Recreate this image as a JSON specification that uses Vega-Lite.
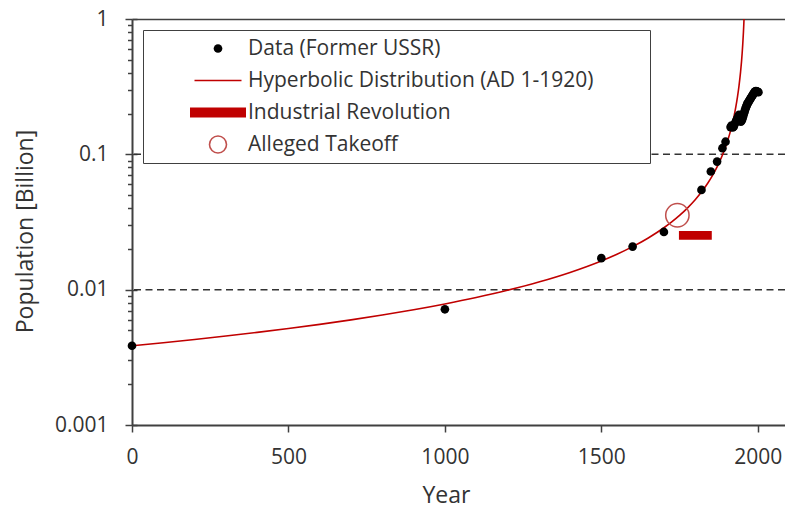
{
  "$schema": "https://vega.github.io/schema/vega-lite/v6.json",
  "width": 653,
  "height": 406,
  "autosize": {"type": "none"},
  "padding": {"left": 132, "top": 19, "right": 0, "bottom": 84},
  "background": "white",
  "config": {
    "view": {"stroke": null},
    "font": "Open Sans",
    "axis": {"grid": false, "domainColor": "#404040", "domainWidth": 2, "tickColor": "#404040", "tickWidth": 1.5, "labelFont": "Open Sans", "labelColor": "#333333", "titleFont": "Open Sans", "titleColor": "#333333", "titleFontWeight": "normal"},
    "legend": {"labelFont": "Open Sans", "labelFontSize": 21, "labelColor": "#333333", "labelLimit": 600, "strokeColor": "#404040", "fillColor": "white", "padding": 8, "rowPadding": 10, "clipHeight": 21, "symbolOffset": 39, "labelOffset": 2, "titleOrient": "right", "titleFontSize": 1, "titlePadding": 49}
  },
  "datasets": {
    "curve": [
      {"year": 0, "pop": 0.00385}, {"year": 100, "pop": 0.004057}, {"year": 200, "pop": 0.004287}, {"year": 300, "pop": 0.004544}, {"year": 400, "pop": 0.004835}, {"year": 500, "pop": 0.005165}, {"year": 600, "pop": 0.005544}, {"year": 700, "pop": 0.005983}, {"year": 800, "pop": 0.006497}, {"year": 900, "pop": 0.007108}, {"year": 1000, "pop": 0.007846}, {"year": 1100, "pop": 0.008754}, {"year": 1200, "pop": 0.0099}, {"year": 1300, "pop": 0.011392}, {"year": 1400, "pop": 0.013414}, {"year": 1500, "pop": 0.016307}, {"year": 1550, "pop": 0.018279}, {"year": 1600, "pop": 0.020792}, {"year": 1650, "pop": 0.024107}, {"year": 1700, "pop": 0.02868}, {"year": 1725, "pop": 0.031685}, {"year": 1750, "pop": 0.035393}, {"year": 1775, "pop": 0.040085}, {"year": 1800, "pop": 0.04621}, {"year": 1820, "pop": 0.052646}, {"year": 1840, "pop": 0.061165}, {"year": 1860, "pop": 0.072973}, {"year": 1870, "pop": 0.080769}, {"year": 1880, "pop": 0.090431}, {"year": 1890, "pop": 0.102717}, {"year": 1900, "pop": 0.118868}, {"year": 1910, "pop": 0.141045}, {"year": 1920, "pop": 0.173394}, {"year": 1925, "pop": 0.195855}, {"year": 1930, "pop": 0.225}, {"year": 1935, "pop": 0.264336}, {"year": 1940, "pop": 0.320339}, {"year": 1945, "pop": 0.406452}, {"year": 1948, "pop": 0.484615}, {"year": 1950, "pop": 0.555882}, {"year": 1952, "pop": 0.651724}, {"year": 1954, "pop": 0.7875}, {"year": 1955, "pop": 0.87907}, {"year": 1956, "pop": 0.994737}, {"year": 1956.5, "pop": 1.064789}
    ],
    "ussr": [
      {"year": 0, "pop": 0.00385}, {"year": 1000, "pop": 0.00716}, {"year": 1500, "pop": 0.0171}, {"year": 1600, "pop": 0.0208}, {"year": 1700, "pop": 0.0267}, {"year": 1820, "pop": 0.0546}, {"year": 1850, "pop": 0.0747}, {"year": 1870, "pop": 0.0884}, {"year": 1887, "pop": 0.111}, {"year": 1897, "pop": 0.124},
      {"year": 1913, "pop": 0.159}, {"year": 1916, "pop": 0.163}, {"year": 1920, "pop": 0.158}, {"year": 1923, "pop": 0.16}, {"year": 1926, "pop": 0.167}, {"year": 1929, "pop": 0.173}, {"year": 1932, "pop": 0.179}, {"year": 1935, "pop": 0.185}, {"year": 1938, "pop": 0.191}, {"year": 1940, "pop": 0.196}, {"year": 1942, "pop": 0.19}, {"year": 1944, "pop": 0.18}, {"year": 1946, "pop": 0.174}, {"year": 1948, "pop": 0.177}, {"year": 1950, "pop": 0.181}, {"year": 1952, "pop": 0.187}, {"year": 1954, "pop": 0.194}, {"year": 1956, "pop": 0.201}, {"year": 1958, "pop": 0.208}, {"year": 1960, "pop": 0.215}, {"year": 1962, "pop": 0.222}, {"year": 1964, "pop": 0.228}, {"year": 1966, "pop": 0.234}, {"year": 1968, "pop": 0.239}, {"year": 1970, "pop": 0.243}, {"year": 1972, "pop": 0.248}, {"year": 1974, "pop": 0.252}, {"year": 1976, "pop": 0.257}, {"year": 1978, "pop": 0.261}, {"year": 1980, "pop": 0.266}, {"year": 1982, "pop": 0.27}, {"year": 1984, "pop": 0.275}, {"year": 1986, "pop": 0.28}, {"year": 1988, "pop": 0.285}, {"year": 1990, "pop": 0.289}, {"year": 1992, "pop": 0.292}, {"year": 1994, "pop": 0.293}, {"year": 1996, "pop": 0.292}, {"year": 1998, "pop": 0.291}, {"year": 2000, "pop": 0.289}, {"year": 2002, "pop": 0.288}
    ]
  },
  "resolve": {"scale": {"x": "shared", "y": "shared"}, "axis": {"x": "independent", "y": "independent"}},
  "layer": [
    {
      "data": {"values": [{"pop": 0.1}, {"pop": 0.01}]},
      "mark": {"type": "rule", "color": "#333333", "strokeWidth": 1.5, "strokeDash": [7, 4.5]},
      "encoding": {
        "y": {"field": "pop", "type": "quantitative", "scale": {"type": "log", "domain": [0.001, 1], "nice": false}, "axis": null}
      }
    },
    {
      "data": {"name": "curve"},
      "mark": {"type": "line", "strokeWidth": 1.6, "clip": true, "interpolate": "monotone", "color": "#c00000"},
      "encoding": {
        "x": {"field": "year", "type": "quantitative", "scale": {"domain": [0, 2087], "nice": false, "zero": false},
              "axis": {"orient": "top", "labels": false, "ticks": false, "title": null, "domainWidth": 1.5}},
        "y": {"field": "pop", "type": "quantitative", "scale": {"type": "log", "domain": [0.001, 1], "nice": false},
              "axis": {"orient": "left", "title": null, "labels": false, "domain": false, "tickSize": 4.5,
                       "values": [0.002, 0.003, 0.004, 0.005, 0.006, 0.007, 0.008, 0.009, 0.02, 0.03, 0.04, 0.05, 0.06, 0.07, 0.08, 0.09, 0.2, 0.3, 0.4, 0.5, 0.6, 0.7, 0.8, 0.9]}}
      }
    },
    {
      "data": {"values": [{"start": 1748, "end": 1853, "pop": 0.0252}]},
      "mark": {"type": "rule", "strokeWidth": 8.7, "strokeCap": "butt", "color": "#c00000"},
      "encoding": {
        "x": {"field": "start", "type": "quantitative", "axis": null},
        "x2": {"field": "end"},
        "y": {"field": "pop", "type": "quantitative", "scale": {"type": "log", "domain": [0.001, 1], "nice": false},
              "axis": {"orient": "left", "title": null, "labels": false, "domain": false, "tickSize": -5, "values": [0.001, 0.01, 0.1, 1]}}
      }
    },
    {
      "data": {"values": [{"year": 1743, "pop": 0.0355}]},
      "mark": {"type": "point", "filled": false, "size": 545, "strokeWidth": 1.5, "opacity": 1, "color": "#c0504d"},
      "encoding": {
        "x": {"field": "year", "type": "quantitative", "axis": null},
        "y": {"field": "pop", "type": "quantitative", "scale": {"type": "log", "domain": [0.001, 1], "nice": false}, "axis": null}
      }
    },
    {
      "data": {"name": "ussr"},
      "mark": {"type": "point", "opacity": 1},
      "encoding": {
        "x": {"field": "year", "type": "quantitative", "scale": {"domain": [0, 2087], "nice": false, "zero": false},
              "axis": {"orient": "bottom", "values": [0, 500, 1000, 1500, 2000], "format": "d", "title": "Year", "titleFontSize": 23, "titleBaseline": "alphabetic", "titleX": 314, "titleY": 77, "labelFontSize": 21, "tickSize": 7, "labelPadding": 31.5, "labelBaseline": "alphabetic", "labelFlush": false}},
        "y": {"field": "pop", "type": "quantitative", "scale": {"type": "log", "domain": [0.001, 1], "nice": false},
              "axis": {"orient": "left", "title": "Population [Billion]",
                       "titleFontSize": 23, "titleAngle": -90, "titleAlign": "center", "titleBaseline": "alphabetic", "titleX": -100, "titleY": 212,
                       "values": [0.001, 0.01, 0.1, 1],
                       "labelExpr": "datum.value == 1 ? '1' : datum.value == 0.1 ? '0.1' : datum.value == 0.01 ? '0.01' : '0.001'",
                       "labelFontSize": 21, "labelPadding": 17, "tickSize": 7, "labelBaseline": "middle"}},
        "fill": {
          "datum": "Data (Former USSR)", "type": "nominal",
          "scale": {"domain": ["Data (Former USSR)", "Hyperbolic Distribution (AD 1-1920)", "Industrial Revolution", "Alleged Takeoff"], "range": ["black", "transparent", "#c00000", "transparent"]},
          "legend": {"orient": "none", "legendX": 11, "legendY": 11, "title": "\u00a0"}
        },
        "stroke": {
          "datum": "Data (Former USSR)", "type": "nominal",
          "scale": {"domain": ["Data (Former USSR)", "Hyperbolic Distribution (AD 1-1920)", "Industrial Revolution", "Alleged Takeoff"], "range": ["black", "#c00000", "#c00000", "#c0504d"]},
          "legend": {"orient": "none", "legendX": 11, "legendY": 11, "title": "\u00a0"}
        },
        "shape": {
          "datum": "Data (Former USSR)", "type": "nominal",
          "scale": {"domain": ["Data (Former USSR)", "Hyperbolic Distribution (AD 1-1920)", "Industrial Revolution", "Alleged Takeoff"], "range": ["circle", "stroke", "M-1,-0.18L1,-0.18L1,0.18L-1,0.18Z", "circle"]},
          "legend": {"orient": "none", "legendX": 11, "legendY": 11, "title": "\u00a0"}
        },
        "size": {
          "datum": "Data (Former USSR)", "type": "nominal",
          "scale": {"type": "ordinal", "domain": ["Data (Former USSR)", "Hyperbolic Distribution (AD 1-1920)", "Industrial Revolution", "Alleged Takeoff"], "range": [75, 2209, 3136, 289]},
          "legend": {"orient": "none", "legendX": 11, "legendY": 11, "title": "\u00a0"}
        },
        "strokeWidth": {
          "datum": "Data (Former USSR)", "type": "nominal",
          "scale": {"type": "ordinal", "domain": ["Data (Former USSR)", "Hyperbolic Distribution (AD 1-1920)", "Industrial Revolution", "Alleged Takeoff"], "range": [0, 1.6, 0, 1.6]},
          "legend": {"orient": "none", "legendX": 11, "legendY": 11, "title": "\u00a0"}
        }
      }
    }
  ]
}
